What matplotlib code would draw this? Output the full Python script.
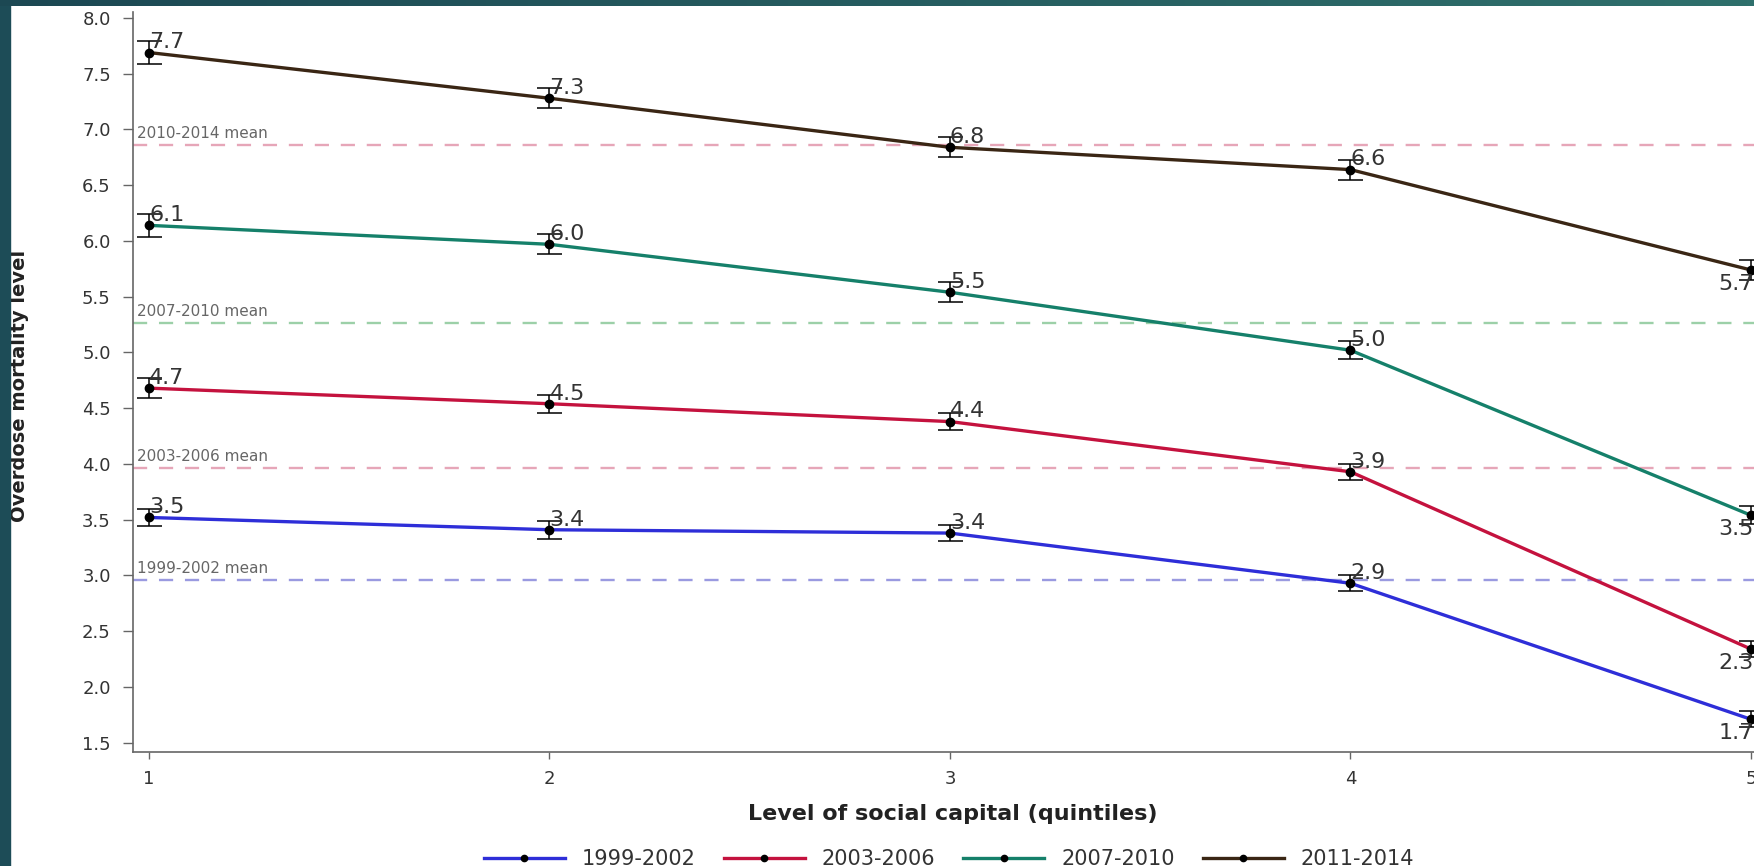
import matplotlib
matplotlib.use('Agg')
import matplotlib.pyplot as plt
import numpy as np
from matplotlib.lines import Line2D
from matplotlib.patches import Rectangle
from matplotlib.colors import to_rgb

# overdose mortality by social capital quintile, four periods
quintiles = [1, 2, 3, 4, 5]
periods = ['1999-2002', '2003-2006', '2007-2010', '2011-2014']

rate_1999 = [3.52, 3.41, 3.38, 2.93, 1.71]
rate_2003 = [4.68, 4.54, 4.38, 3.93, 2.34]
rate_2007 = [6.14, 5.97, 5.54, 5.02, 3.54]
rate_2011 = [7.69, 7.28, 6.84, 6.64, 5.74]

# half width of the confidence interval at each quintile
err_1999 = [0.08, 0.08, 0.07, 0.07, 0.07]
err_2003 = [0.09, 0.08, 0.08, 0.07, 0.07]
err_2007 = [0.10, 0.09, 0.09, 0.08, 0.08]
err_2011 = [0.10, 0.09, 0.09, 0.09, 0.09]

mean_labels = ['1999-2002 mean', '2003-2006 mean', '2007-2010 mean', '2010-2014 mean']
mean_values = [2.96, 3.96, 5.26, 6.86]

line_colors = ['#2e2ed8', '#c4123e', '#15806a', '#3a2614']
mean_colors = ['#9a9ae0', '#e6a6b8', '#9cd0a8', '#e6a6b8']

rates = [rate_1999, rate_2003, rate_2007, rate_2011]
errs = [err_1999, err_2003, err_2007, err_2011]

W, H = 1754, 866
fig = plt.figure(figsize=(W / 100, H / 100), dpi=100)
fig.patch.set_facecolor('white')

# plot area runs off the right edge of the slide
ax = fig.add_axes([133 / W, (H - 751.6) / H, (1851 - 133) / W, 739.2 / H])
ax.set_xlim(0.96, 5.25)
ax.set_ylim(1.42, 8.05)

for label, val, col in zip(mean_labels, mean_values, mean_colors):
    ax.axhline(val, color=col, lw=1.7, dashes=(6, 5), zorder=1)
    ax.annotate(label, xy=(0, val), xycoords=('axes fraction', 'data'),
                xytext=(3, 3), textcoords='offset points',
                fontsize=11, color='#666666', ha='left', va='bottom')

for vals, err, col in zip(rates, errs, line_colors):
    ax.plot(quintiles, vals, color=col, lw=2.4, zorder=2)
    ax.errorbar(quintiles, vals, yerr=err, fmt='o', color='black', ms=6,
                capsize=9, elinewidth=1.1, capthick=1.1, zorder=3)
    for q, v in zip(quintiles, vals):
        if q == quintiles[-1]:
            ax.annotate(f'{v:.1f}', xy=(q, v), xytext=(2, -3),
                        textcoords='offset points', fontsize=16,
                        color='#333333', ha='right', va='top', zorder=4)
        else:
            ax.annotate(f'{v:.1f}', xy=(q, v), xytext=(0, 3),
                        textcoords='offset points', fontsize=16,
                        color='#333333', ha='left', va='baseline', zorder=4)

ax.set_xticks(quintiles)
ax.set_yticks(np.arange(1.5, 8.01, 0.5))
ax.yaxis.set_major_formatter(matplotlib.ticker.FormatStrFormatter('%.1f'))
ax.tick_params(axis='y', length=7, width=1, color='#666666', pad=9,
               labelsize=13, labelcolor='#333333')
ax.tick_params(axis='x', length=5, width=1, color='#666666', pad=8,
               labelsize=13, labelcolor='#333333')
for side in ['top', 'right']:
    ax.spines[side].set_visible(False)
for side in ['left', 'bottom']:
    ax.spines[side].set_color('#666666')
    ax.spines[side].set_linewidth(1.2)

fig.text(953 / W, 1 - 814 / H, 'Level of social capital (quintiles)',
         ha='center', va='center', fontsize=16, fontweight='bold', color='#222222')
fig.text(20 / W, 1 - 386 / H, 'Overdose mortality level', rotation=90,
         ha='center', va='center', fontsize=14, fontweight='bold', color='#222222')

handles = [Line2D([], [], color=c, lw=2.4, marker='o', ms=4.5,
                  markerfacecolor='black', markeredgecolor='black')
           for c in line_colors]
fig.legend(handles, periods, loc='center', bbox_to_anchor=(0.541, 1 - 859 / H),
           ncol=4, frameon=False, fontsize=15, handlelength=3.9,
           handletextpad=0.8, columnspacing=1.35, labelcolor='#333333')

# slide frame: teal strip on the left and gradient band along the top
fig.add_artist(Rectangle((0, 0), 10 / W, 1, transform=fig.transFigure,
                         color='#1d4c57', zorder=10))
gax = fig.add_axes([0, 1 - 6 / H, 1, 6 / H], zorder=10)
c0, c1 = np.array(to_rgb('#1c4853')), np.array(to_rgb('#2f706c'))
t = np.linspace(0, 1, 256)[None, :, None]
gax.imshow(c0 + (c1 - c0) * t, aspect='auto')
gax.axis('off')

fig.savefig('out.png', dpi=100)
